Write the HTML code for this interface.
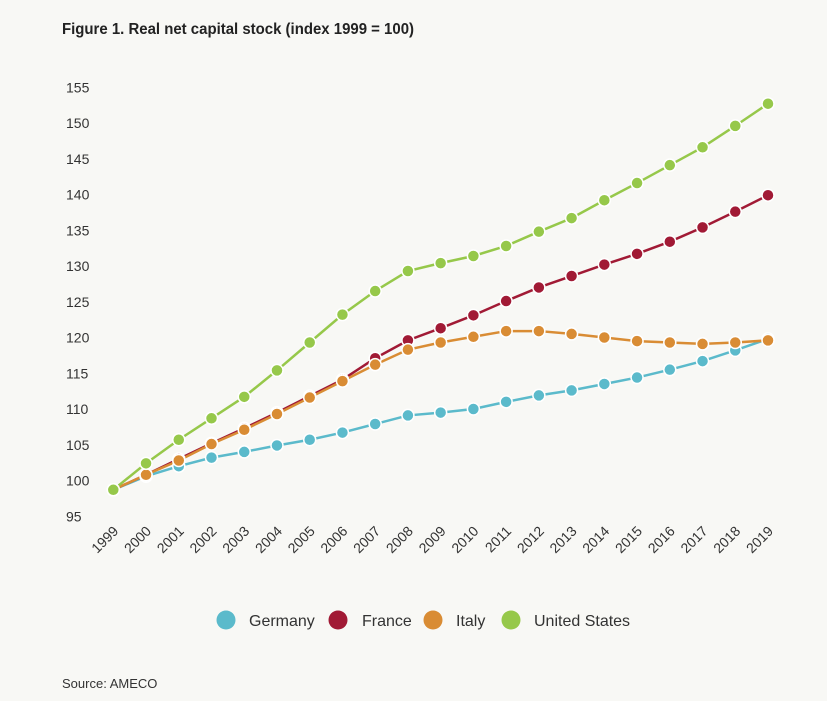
<!DOCTYPE html>
<html><head><meta charset="utf-8"><style>
body{margin:0;background:#f8f8f5;font-family:"Liberation Sans",sans-serif;}
svg{display:block}
</style></head><body>
<svg width="827" height="701" viewBox="0 0 827 701">
<rect width="827" height="701" fill="#f8f8f5"/>
<text x="62" y="34" font-size="16" font-weight="bold" fill="#222" style="font-stretch:condensed" textLength="352" lengthAdjust="spacingAndGlyphs">Figure 1. Real net capital stock (index 1999 = 100)</text>
<g id="yaxis"></g>
<g id="xaxis"></g>
<g id="series"></g>
<g id="legend"></g>
<text x="62" y="688" font-size="13" fill="#333">Source: AMECO</text>
</svg>
<script>
const years=[1999,2000,2001,2002,2003,2004,2005,2006,2007,2008,2009,2010,2011,2012,2013,2014,2015,2016,2017,2018,2019];
const yTicks=[95,100,105,110,115,120,125,130,135,140,145,150,155];
const germany=[98.7,100.6,102.0,103.2,104.0,104.9,105.7,106.7,107.9,109.1,109.5,110.0,111.0,111.9,112.6,113.5,114.4,115.5,116.7,118.2,119.8];
const france=[98.7,100.8,103.0,105.2,107.3,109.5,111.8,114.1,117.1,119.6,121.3,123.1,125.1,127.0,128.6,130.2,131.7,133.4,135.4,137.6,139.9];
const italy=[98.7,100.8,102.8,105.1,107.1,109.3,111.6,113.9,116.2,118.3,119.3,120.1,120.9,120.9,120.5,120.0,119.5,119.3,119.1,119.3,119.6];
const us=[98.7,102.4,105.7,108.7,111.7,115.4,119.3,123.2,126.5,129.3,130.4,131.4,132.8,134.8,136.7,139.2,141.6,144.1,146.6,149.6,152.7];
const seriesNames=["Germany","France","Italy","United States"];
const NS="http://www.w3.org/2000/svg";
const x=i=>113.3+i*(768-113.3)/20;
const y=v=>480.5-(v-100)*7.15;
function mk(t,a,p){const e=document.createElementNS(NS,t);for(const k in a)e.setAttribute(k,a[k]);p.appendChild(e);return e;}
const ya=document.getElementById('yaxis');
yTicks.forEach(v=>{const t=mk('text',{x:66,y:y(v)+5,'font-size':14,fill:'#333'},ya);t.textContent=v;

});
const xa=document.getElementById('xaxis');
years.forEach((yr,i)=>{const t=mk('text',{x:x(i)+6,y:532,'font-size':14,fill:'#333','text-anchor':'end',transform:`rotate(-45 ${x(i)+6} 532)`},xa);t.textContent=yr;

});
const sg=document.getElementById('series');
const order=[[germany,'#5bbacb','germany'],[france,'#a11a35','france'],[italy,'#d98c34','italy'],[us,'#96c84a','united-states']];
order.forEach(([d,c,n])=>{const p=mk('polyline',{points:d.map((v,i)=>x(i)+','+y(v)).join(' '),fill:'none',stroke:c,'stroke-width':2.5},sg);

});
order.forEach(([d,c,n])=>{d.forEach((v,i)=>{const m=mk('circle',{cx:x(i),cy:y(v),r:6,fill:c,stroke:'#fff','stroke-width':1.5},sg);

});});
const lg=document.getElementById('legend');
const lcols=['#5bbacb','#a11a35','#d98c34','#96c84a'];
const lpos=[[226,249],[338,362],[433,456],[511,534]];
seriesNames.forEach((nm,i)=>{const g=mk('g',{},lg);


mk('circle',{cx:lpos[i][0],cy:620,r:9.5,fill:lcols[i]},g);
const t=mk('text',{x:lpos[i][1],y:626,'font-size':16,fill:'#333'},g);t.textContent=nm;});
</script>
</body></html>
